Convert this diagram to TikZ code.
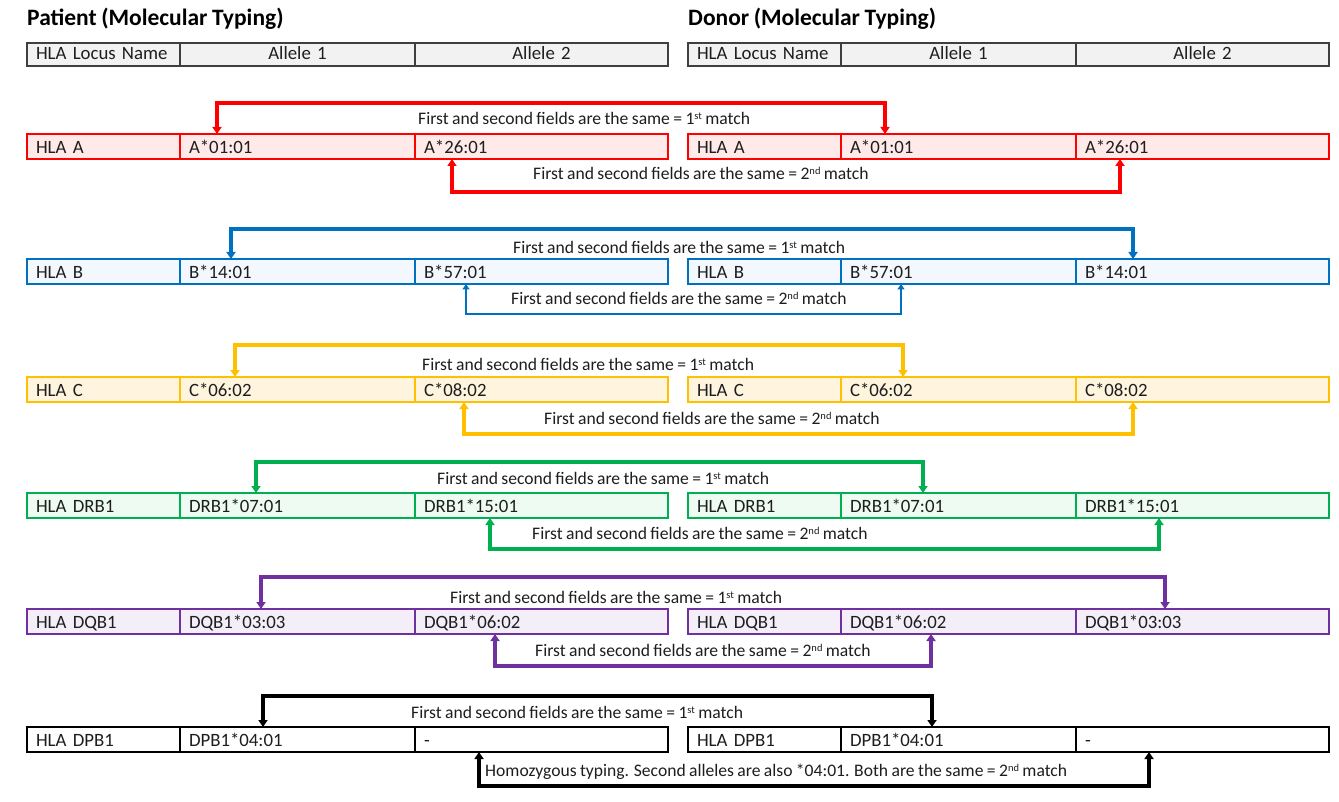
\documentclass[tikz,border=0pt]{standalone}
\usepackage{fontspec}
\setmainfont{Carlito}[WordSpace=0.85]
\usetikzlibrary{arrows.meta,calc}

\definecolor{txtc}{HTML}{1E1E1E}
\definecolor{hdrline}{HTML}{3F3F3F}
\definecolor{hdrfill}{HTML}{F2F2F2}
\definecolor{cRed}{HTML}{FF0000}
\definecolor{fRed}{HTML}{FFE9E9}
\definecolor{cBlue}{HTML}{0070C0}
\definecolor{fBlue}{HTML}{F2F8FD}
\definecolor{cGold}{HTML}{FFC000}
\definecolor{fGold}{HTML}{FFF5DF}
\definecolor{cGreen}{HTML}{00B050}
\definecolor{fGreen}{HTML}{EEFBF3}
\definecolor{cPurple}{HTML}{7030A0}
\definecolor{fPurple}{HTML}{F3EEF8}

\newcommand{\titlefont}{\fontsize{23.5}{28}\selectfont\bfseries}
\newcommand{\cellfont}{\fontsize{18.8}{22}\selectfont}
\newcommand{\lblfont}{\fontsize{17.6}{21}\selectfont}
% small raised ordinal suffix (st, nd)
\newcommand{\ordsfx}[1]{\raisebox{5.2pt}{\fontsize{10.5}{10.5}\selectfont #1}}

% one table row: name prefix, left x, top y, row style, three cell texts
\newcommand{\hlarow}[7]{%
  \node[cell,#4,text width=135pt] (#1-0) at (#2,#3) {#5};
  \node[cell,#4,text width=217pt] (#1-1) at (#2+153,#3) {#6};
  \node[cell,#4,text width=235pt] (#1-2) at (#2+388,#3) {#7};
}

\begin{document}
\begin{tikzpicture}[x=1pt,y=-1pt,
  cell/.style={rectangle, anchor=north west, outer sep=0pt, minimum height=25pt,
    inner xsep=9pt, inner ysep=0pt, text height=14pt, text depth=0.5pt,
    align=left, font=\cellfont, text=txtc, line width=2pt},
  hdr/.style={draw=hdrline, fill=hdrfill, line width=1.3pt, minimum height=23pt,
    text height=12pt, text depth=1pt},
  hdrc/.style={hdr, align=center},
  rowA/.style={draw=cRed, fill=fRed},
  rowB/.style={draw=cBlue, fill=fBlue},
  rowC/.style={draw=cGold, fill=fGold},
  rowR/.style={draw=cGreen, fill=fGreen},
  rowQ/.style={draw=cPurple, fill=fPurple},
  rowP/.style={draw=black, fill=white},
  link/.style={line width=3.4pt, arrows={Triangle[width=9pt,length=7pt]-Triangle[width=9pt,length=7pt]}},
  thinlink/.style={line width=2.4pt, arrows={Triangle[width=7pt,length=5.5pt]-Triangle[width=7pt,length=5.5pt]}},
  lbl/.style={font=\lblfont, text=txtc, inner sep=0pt, anchor=west, text height=12pt, text depth=1pt},
  title/.style={font=\titlefont, text=black, inner sep=0pt, anchor=base west}]

\useasboundingbox (0,0) rectangle (1339,802);
\fill[white] (0,0) rectangle (1339,802);

% headings
\node[title] (ptitle) at (27,26) {Patient (Molecular Typing)};
\node[title] (dtitle) at (688,26) {Donor (Molecular Typing)};

% column headers
\node[cell,hdr,text width=135pt] (ph-0) at (27,43) {HLA Locus Name};
\node[cell,hdrc,text width=217pt] (ph-1) at (180,43) {Allele 1};
\node[cell,hdrc,text width=235pt] (ph-2) at (415,43) {Allele 2};
\node[cell,hdr,text width=135pt] (dh-0) at (688,43) {HLA Locus Name};
\node[cell,hdrc,text width=217pt] (dh-1) at (841,43) {Allele 1};
\node[cell,hdrc,text width=235pt] (dh-2) at (1076,43) {Allele 2};

% typing rows
\hlarow{pA}{27}{134}{rowA}{HLA A}{A*01:01}{A*26:01}
\hlarow{dA}{688}{134}{rowA}{HLA A}{A*01:01}{A*26:01}
\hlarow{pB}{27}{259}{rowB}{HLA B}{B*14:01}{B*57:01}
\hlarow{dB}{688}{259}{rowB}{HLA B}{B*57:01}{B*14:01}
\hlarow{pC}{27}{377}{rowC}{HLA C}{C*06:02}{C*08:02}
\hlarow{dC}{688}{377}{rowC}{HLA C}{C*06:02}{C*08:02}
\hlarow{pR}{27}{493}{rowR}{HLA DRB1}{DRB1*07:01}{DRB1*15:01}
\hlarow{dR}{688}{493}{rowR}{HLA DRB1}{DRB1*07:01}{DRB1*15:01}
\hlarow{pQ}{27}{609}{rowQ}{HLA DQB1}{DQB1*03:03}{DQB1*06:02}
\hlarow{dQ}{688}{609}{rowQ}{HLA DQB1}{DQB1*06:02}{DQB1*03:03}
\hlarow{pP}{27}{727}{rowP}{HLA DPB1}{DPB1*04:01}{-}
\hlarow{dP}{688}{727}{rowP}{HLA DPB1}{DPB1*04:01}{-}

% HLA A
\draw[link,cRed] ([xshift=37pt]pA-1.north west) -- ++(0,-31) -| ([xshift=44pt]dA-1.north west);
\draw[link,cRed] ([xshift=37pt]pA-2.south west) -- ++(0,33) -| ([xshift=44pt]dA-2.south west);
\node[lbl] (lA1) at (418,119) {First and second fields are the same = 1\ordsfx{st} match};
\node[lbl] (lA2) at (533,174) {First and second fields are the same = 2\ordsfx{nd} match};

% HLA B
\draw[link,cBlue] ([xshift=51pt]pB-1.north west) -- ++(0,-30) -| ([xshift=57pt]dB-2.north west);
\draw[thinlink,cBlue] ([xshift=51pt]pB-2.south west) -- ++(0,30) -| ([xshift=60pt]dB-1.south west);
\node[lbl] (lB1) at (513,248) {First and second fields are the same = 1\ordsfx{st} match};
\node[lbl] (lB2) at (511,299) {First and second fields are the same = 2\ordsfx{nd} match};

% HLA C
\draw[link,cGold] ([xshift=55pt]pC-1.north west) -- ++(0,-32) -| ([xshift=62pt]dC-1.north west);
\draw[link,cGold] ([xshift=49pt]pC-2.south west) -- ++(0,32) -| ([xshift=57pt]dC-2.south west);
\node[lbl] (lC1) at (422,365) {First and second fields are the same = 1\ordsfx{st} match};
\node[lbl] (lC2) at (544,419) {First and second fields are the same = 2\ordsfx{nd} match};

% HLA DRB1
\draw[link,cGreen] ([xshift=76pt]pR-1.north west) -- ++(0,-31) -| ([xshift=82pt]dR-1.north west);
\draw[link,cGreen] ([xshift=75pt]pR-2.south west) -- ++(0,31) -| ([xshift=83pt]dR-2.south west);
\node[lbl] (lR1) at (437,479) {First and second fields are the same = 1\ordsfx{st} match};
\node[lbl] (lR2) at (532,534) {First and second fields are the same = 2\ordsfx{nd} match};

% HLA DQB1
\draw[link,cPurple] ([xshift=81pt]pQ-1.north west) -- ++(0,-32) -| ([xshift=89pt]dQ-2.north west);
\draw[link,cPurple] ([xshift=80pt]pQ-2.south west) -- ++(0,32) -| ([xshift=90pt]dQ-1.south west);
\node[lbl] (lQ1) at (450,598) {First and second fields are the same = 1\ordsfx{st} match};
\node[lbl] (lQ2) at (535,651) {First and second fields are the same = 2\ordsfx{nd} match};

% HLA DPB1
\draw[link,black] ([xshift=83pt]pP-1.north west) -- ++(0,-31) -| ([xshift=91pt]dP-1.north west);
\draw[link,black] ([xshift=64pt]pP-2.south west) -- ++(0,34) -| ([xshift=73pt]dP-2.south west);
\node[lbl] (lP1) at (411,713) {First and second fields are the same = 1\ordsfx{st} match};
\node[lbl] (lP2) at (485,771) {Homozygous typing. Second alleles are also *04:01. Both are the same = 2\ordsfx{nd} match};

\end{tikzpicture}
\end{document}
